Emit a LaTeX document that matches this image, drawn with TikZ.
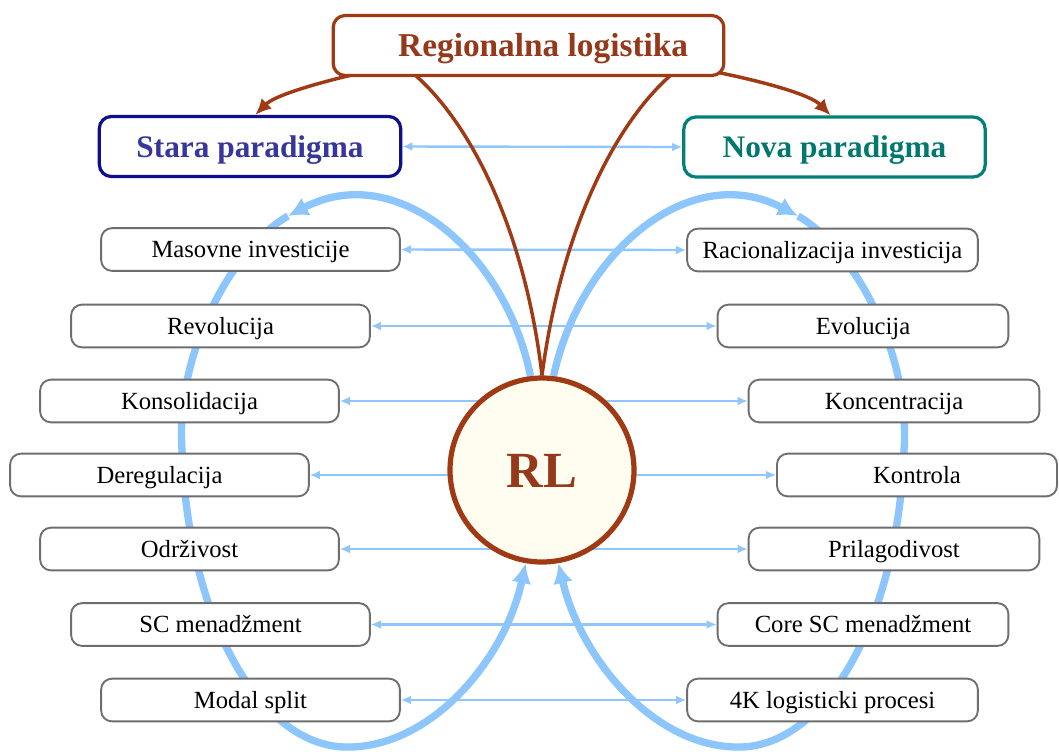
\documentclass[tikz,border=0pt]{standalone}
\usepackage{fontspec}
\setmainfont{Liberation Serif}
\usetikzlibrary{arrows.meta,calc}
\pgfdeclarelayer{paper}
\pgfdeclarelayer{background}
\pgfsetlayers{paper,background,main}
\definecolor{rlbrown}{RGB}{160,58,20}
\definecolor{rltext}{RGB}{150,56,26}
\definecolor{navyb}{RGB}{15,15,140}
\definecolor{navyt}{RGB}{55,55,155}
\definecolor{tealb}{RGB}{0,128,120}
\definecolor{tealt}{RGB}{0,120,110}
\definecolor{loopblue}{RGB}{140,198,252}
\definecolor{lineblue}{RGB}{145,198,250}
\definecolor{boxgray}{RGB}{110,110,110}
\definecolor{rlfill}{RGB}{255,253,240}
\begin{document}
\begin{tikzpicture}[x=0.75pt,y=-0.75pt,
 itembox/.style={draw=boxgray,line width=1.4pt,rounded corners=8pt,fill=white,minimum height=32pt,inner sep=0pt,text height=12.2pt,text depth=0pt,font=\fontsize{18.5}{20}\selectfont},
 lbox/.style={itembox,minimum width=224pt},
 rbox/.style={itembox,minimum width=218pt},
 headbox/.style={line width=2.4pt,rounded corners=9pt,fill=white,minimum height=45pt,minimum width=226pt,inner sep=0pt,text height=16pt,text depth=0pt,font=\bfseries\fontsize{23.5}{26}\selectfont},
 twoway/.style={lineblue,line width=1.8pt,{Latex[length=7.5pt,width=6.5pt]}-{Latex[length=7.5pt,width=6.5pt]}},
 bigloop/.style={loopblue,line width=5.5pt},
 looptip/.style={-{Latex[length=15pt,width=15pt]}},
 brownline/.style={rlbrown,line width=2.6pt},
 browntip/.style={-{Latex[length=12pt,width=11pt]}}
]
\useasboundingbox (0,0) rectangle (1059,751);
\begin{pgfonlayer}{paper}
\fill[white] (0,0) rectangle (1059,751);
\end{pgfonlayer}

% heads
\node[headbox,draw=rlbrown,text=rltext,minimum width=293pt,text height=17pt,font=\bfseries\fontsize{25}{28}\selectfont] (reg) at (528.5,45.5) {\hspace*{22pt}Regionalna logistika};
\node[headbox,draw=navyb,text=navyt] (stara) at (250,146.5) {Stara paradigma};
\node[headbox,draw=tealb,text=tealt] (nova) at (834.5,147) {Nova paradigma};

% centre
\node[circle,draw=rlbrown,line width=3.9pt,fill=rlfill,minimum size=138pt,inner sep=0pt,text height=25.7pt,text depth=0pt,text=rltext,font=\bfseries\fontsize{38}{40}\selectfont] (RL) at (542,470) {RL};

% left items
\node[lbox] (l1) at (250.5,249.5) {Masovne investicije};
\node[lbox] (l2) at (220.5,326) {Revolucija};
\node[lbox] (l3) at (189.5,401) {Konsolidacija};
\node[lbox] (l4) at (159.5,475) {Deregulacija};
\node[lbox] (l5) at (189.5,549) {Održivost};
\node[lbox] (l6) at (220.5,624.5) {SC menadžment};
\node[lbox] (l7) at (250.5,700) {Modal split};

% right items
\node[rbox] (r1) at (832.5,250) {Racionalizacija investicija};
\node[rbox] (r2) at (863,326) {Evolucija};
\node[rbox] (r3) at (894,401) {Koncentracija};
\node[rbox,minimum width=210pt] (r4) at (917,475) {Kontrola};
\node[rbox] (r5) at (894,549) {Prilagodivost};
\node[rbox] (r6) at (863,624.5) {Core SC menadžment};
\node[rbox] (r7) at (832.5,700) {4K logisticki procesi};

\begin{pgfonlayer}{background}
% blue loops
\draw[bigloop,looptip] (RL.97) .. controls (505,250) and (395,160) .. (288,216);
\draw[bigloop,looptip] (288,216) .. controls (235,246) and (175,350) .. (182,450)
  .. controls (188,620) and (260,745) .. (345,747)
  .. controls (430,749) and (505,660) .. (RL.260);
\draw[bigloop,looptip] (RL.83) .. controls (581,250) and (691,160) .. (798,216);
\draw[bigloop,looptip] (798,216) .. controls (851,246) and (911,350) .. (904,450)
  .. controls (898,620) and (826,745) .. (741,747)
  .. controls (656,749) and (581,660) .. (RL.280);
% horizontal two-way arrows
\draw[twoway] (stara.east) -- (nova.west);
\foreach \i in {1,...,7}{
  \draw[twoway] (l\i.east) -- (r\i.west);
}
% brown connectors
\draw[brownline] (RL.north) .. controls (525,230) and (470,120) .. ($(reg.south)+(-118,-6)$);
\draw[brownline] (RL.north) .. controls (561,230) and (616,120) .. ($(reg.south)+(147,-6)$);
\draw[brownline,browntip] ($(reg.south west)+(37,-6)$) .. controls (320,82) and (275,95) .. ([xshift=4pt]stara.north);
\draw[brownline,browntip] ($(reg.south east)+(-14,-6)$) .. controls (766,82) and (811,95) .. ([xshift=-3pt]nova.north);
\end{pgfonlayer}
\end{tikzpicture}
\end{document}
